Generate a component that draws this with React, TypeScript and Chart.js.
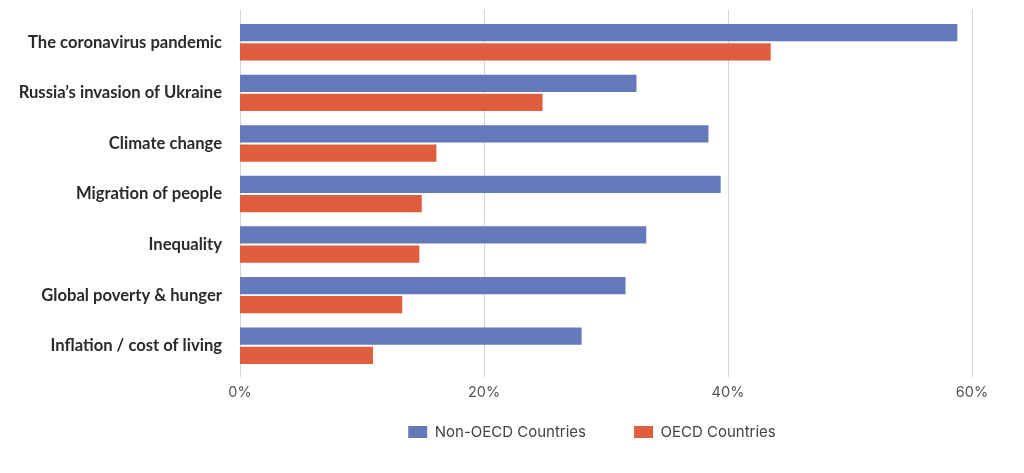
import React, { useEffect, useRef } from "react";
import { Chart, registerables } from "chart.js";

Chart.register(...registerables);

const categories = [
  "The coronavirus pandemic",
  "Russia\u2019s invasion of Ukraine",
  "Climate change",
  "Migration of people",
  "Inequality",
  "Global poverty & hunger",
  "Inflation / cost of living",
];
const nonOecd = [58.8, 32.5, 38.4, 39.4, 33.3, 31.6, 28.0];
const oecd = [43.5, 24.8, 16.1, 14.9, 14.7, 13.3, 10.9];
const xTicks = [0, 20, 40, 60];

const LEGEND_CENTER_Y = 432;
const LEGEND_SHIFT_X = 106;

const gridPlugin = {
  id: "extGrid",
  beforeDatasetsDraw(chart: any) {
    const { ctx, chartArea, scales } = chart;
    const x = scales.x;
    ctx.save();
    ctx.strokeStyle = "#d4d4d4";
    ctx.lineWidth = 1;
    xTicks.forEach((v) => {
      const px = Math.round(x.getPixelForValue(v)) + 0.5;
      ctx.beginPath();
      ctx.moveTo(px, chartArea.top - 7);
      ctx.lineTo(px, chartArea.bottom + 6);
      ctx.stroke();
    });
    ctx.restore();
  },
};

const legendPlace = {
  id: "legendPlace",
  afterLayout(chart: any) {
    const lg = chart.legend;
    if (!lg) return;
    const pad = lg.options.labels.padding;
    const fs = lg.options.labels.font.size;
    lg.left += LEGEND_SHIFT_X;
    lg.right += LEGEND_SHIFT_X;
    lg.top = LEGEND_CENTER_Y - pad - fs / 2;
    lg.bottom = chart.height;
    lg.height = lg.bottom - lg.top;
    lg.width = lg.right - lg.left;
  },
};

export default function App() {
  const ref = useRef<HTMLCanvasElement>(null);
  useEffect(() => {
    document.body.style.margin = "0";
    const chart = new Chart(ref.current!, {
      type: "bar",
      data: {
        labels: categories,
        datasets: [
          { label: "Non-OECD Countries", data: nonOecd, backgroundColor: "#6479b9", borderWidth: 0 },
          { label: "OECD Countries", data: oecd, backgroundColor: "#e05d3d", borderWidth: 0 },
        ],
      },
      options: {
        indexAxis: "y",
        animation: false,
        responsive: true,
        maintainAspectRatio: false,
        datasets: { bar: { categoryPercentage: 0.758, barPercentage: 0.9 } },
        layout: { padding: { top: 17, right: 52, left: 0, bottom: 18 } },
        scales: {
          x: {
            min: 0,
            max: 60,
            afterBuildTicks: (scale: any) => {
              scale.ticks = xTicks.map((v) => ({ value: v }));
            },
            afterFit: (scale: any) => {
              scale.height = 44;
            },
            grid: { display: false, drawTicks: false },
            border: { display: false },
            ticks: {
              padding: 13,
              color: "#555",
              font: { family: "Inter, 'Liberation Sans', sans-serif", size: 14.5 },
              callback: (v: any) => v + "%",
            },
          },
          y: {
            afterFit: (scale: any) => {
              scale.width = 240;
              scale.paddingTop = 0;
              scale.paddingBottom = 0;
            },
            grid: { display: false, drawTicks: false },
            border: { display: false },
            ticks: {
              padding: 18,
              color: "#2a2a2a",
              font: { family: "Lato, 'Liberation Sans', sans-serif", size: 16.6, weight: "bold" },
            },
          },
        },
        plugins: {
          legend: {
            position: "bottom",
            maxHeight: 40,
            labels: {
              boxWidth: 19,
              boxHeight: 12,
              padding: 48,
              color: "#444",
              font: { family: "Inter, 'Liberation Sans', sans-serif", size: 15 },
            },
          },
          tooltip: { enabled: false },
        },
      },
      plugins: [gridPlugin, legendPlace],
    });
    return () => chart.destroy();
  }, []);
  return (
    <div style={{ position: "relative", width: 1024, height: 473 }}>
      <canvas ref={ref} />
    </div>
  );
}
